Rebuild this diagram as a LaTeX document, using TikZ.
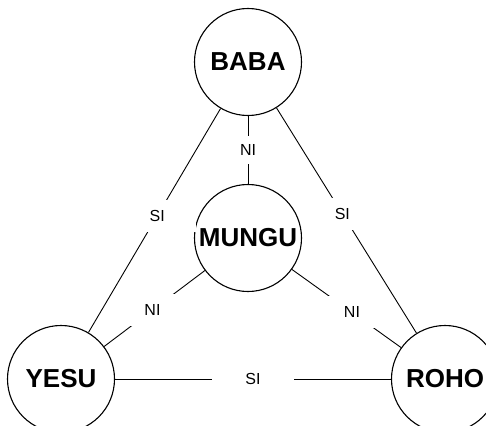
\documentclass[tikz,border=0pt]{standalone}
\usepackage{fontspec}
\setmainfont{Liberation Sans}
\begin{document}
\begin{tikzpicture}[x=1pt,y=-1pt,
  person/.style={circle,draw,line width=1.1pt,minimum size=107pt,inner sep=0pt,font=\fontsize{26}{26}\selectfont\bfseries},
  link/.style={line width=0.9pt},
  lbl/.style={fill=white,inner sep=0pt,minimum width=78pt,minimum height=32pt,font=\fontsize{16}{16}\selectfont}]
\useasboundingbox (0,0) rectangle (486,425);
\node[person] (baba) at (248,62) {BABA};
\node[person] (mungu) at (248,238) {MUNGU};
\node[person] (yesu) at (61,379) {YESU};
\node[person] (roho) at (445,379) {ROHO};
\draw[link] (baba) -- node[lbl,pos=0.48]{SI} (yesu);
\draw[link] (baba) -- node[lbl,pos=0.47]{SI} (roho);
\draw[link] (baba) -- node[lbl,minimum height=28pt]{NI} (mungu);
\draw[link] (mungu) -- node[lbl,pos=0.52]{NI} (yesu);
\draw[link] (mungu) -- node[lbl,pos=0.55]{NI} (roho);
\draw[link] (yesu) -- node[lbl,minimum width=82pt]{SI} (roho);
\end{tikzpicture}
\end{document}
